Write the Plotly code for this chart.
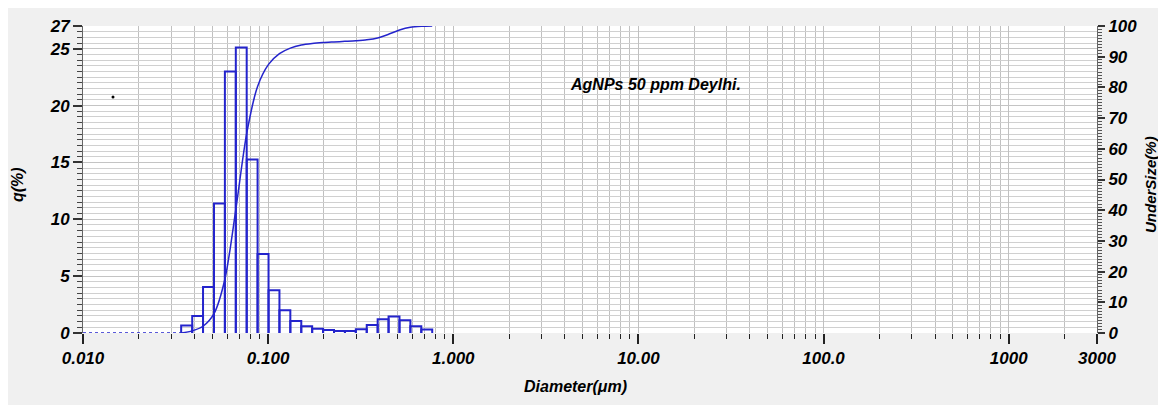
import plotly.graph_objects as go

# ---- data ----
bin_edges = [0.0339, 0.0389, 0.0445, 0.0510, 0.0584, 0.0669, 0.0766, 0.0877, 0.1005,
             0.1151, 0.1318, 0.1510, 0.1729, 0.1981, 0.2269, 0.2599, 0.2976, 0.3409,
             0.3905, 0.4472, 0.5122, 0.5867, 0.6720, 0.7697]
q_percent = [0.65, 1.5, 4.05, 11.4, 23.0, 25.1, 15.25, 6.95, 3.75, 2.0, 1.05, 0.6,
             0.38, 0.27, 0.18, 0.18, 0.33, 0.7, 1.2, 1.45, 1.12, 0.59, 0.3]
undersize = [0, 0.7, 2.2, 6.3, 17.5, 40.2, 65.0, 80.3, 87.5, 91.0, 92.8, 93.8, 94.3,
             94.6, 94.8, 95.0, 95.2, 95.5, 96.1, 97.3, 98.7, 99.6, 99.9, 100]
zero_run_x = [0.010, 0.0339]
zero_run_y = [0, 0]
stray_x = [0.01452]
stray_y = [20.75]

x_tick_vals = [0.01, 0.1, 1, 10, 100, 1000, 3000]
x_tick_text = ["0.010", "0.100", "1.000", "10.00", "100.0", "1000", "3000"]
y_tick_vals = [0, 5, 10, 15, 20, 25, 27]
y2_tick_vals = [0, 10, 20, 30, 40, 50, 60, 70, 80, 90, 100]

BLUE = "#2424cc"
FONT = dict(family="Liberation Sans", size=17, color="black", weight="bold", style="italic")

# the page body adds an 8 px offset; plot area in the screenshot is x 83..1097, y 26..333
OFF = 8
W, H = 1166, 405
L, T = 83 - OFF, 26 - OFF
R = W - (1097 - OFF)
B = H - (333 - OFF)
PW, PH = W - L - R, H - T - B

# outline path of the histogram bars
bx, by = [], []
for i, h in enumerate(q_percent):
    l, r = bin_edges[i], bin_edges[i + 1]
    bx += [l, l, r, r, None]
    by += [0, h, h, 0, None]

fig = go.Figure()
fig.add_trace(go.Scatter(x=zero_run_x, y=zero_run_y, mode="lines",
                         line=dict(color=BLUE, width=1.5, dash="dot"),
                         hoverinfo="skip", showlegend=False))
fig.add_trace(go.Scatter(x=bx, y=by, mode="lines",
                         line=dict(color=BLUE, width=2), showlegend=False))
fig.add_trace(go.Scatter(x=stray_x, y=stray_y, mode="markers",
                         marker=dict(color="black", size=3), showlegend=False))
fig.add_trace(go.Scatter(x=bin_edges, y=undersize, mode="lines", yaxis="y2",
                         line=dict(color=BLUE, width=1.5, shape="spline", smoothing=0.8),
                         showlegend=False))

minor_x = [m * 10 ** e for e in range(-2, 4) for m in range(2, 10) if m * 10 ** e < 3000]


def px_x(px):
    return (px - OFF - L) / PW


def px_y(py):
    return (H - B - (py - OFF)) / PH


fig.update_layout(
    width=W, height=H,
    margin=dict(l=L, r=R, t=T, b=B, autoexpand=False),
    paper_bgcolor="#f0f0f0",
    plot_bgcolor="white",
    font=FONT,
    xaxis=dict(
        type="log", range=[-2, 3.4771], automargin=False,
        tickvals=x_tick_vals, ticktext=x_tick_text,
        ticks="outside", ticklen=10, tickwidth=1.5, tickcolor="#222",
        showgrid=True, gridcolor="#c0c0c0", gridwidth=1,
        minor=dict(tickvals=minor_x, ticks="outside", ticklen=5, tickwidth=1.2,
                   tickcolor="#222", showgrid=True, gridcolor="#c0c0c0", gridwidth=1),
        showline=False, zeroline=False,
        tickfont=FONT,
    ),
    yaxis=dict(
        range=[0, 27], tickvals=y_tick_vals, automargin=False,
        ticks="outside", ticklen=9, tickwidth=1.5, tickcolor="#333",
        showgrid=True, gridcolor="#c4c4c4", gridwidth=1,
        minor=dict(dtick=0.5, tick0=0, ticks="outside", ticklen=5, tickwidth=1,
                   tickcolor="#444", showgrid=True, gridcolor="#d0d0d0", gridwidth=1),
        showline=True, linecolor="#666", linewidth=1, zeroline=False,
        tickfont=FONT,
    ),
    yaxis2=dict(
        range=[0, 100], tickvals=y2_tick_vals, overlaying="y", side="right",
        automargin=False,
        ticks="outside", ticklen=7, tickwidth=1.5, tickcolor="#333",
        minor=dict(dtick=1, tick0=0, ticks="outside", ticklen=4, tickwidth=1,
                   tickcolor="#555"),
        showgrid=False, showline=True, linecolor="#666", linewidth=1, zeroline=False,
        tickfont=FONT,
    ),
    annotations=[
        dict(text="AgNPs 50 ppm Deylhi.", x=px_x(655), y=px_y(84), xref="paper", yref="paper",
             showarrow=False, font=dict(FONT, size=16), xanchor="center", yanchor="middle"),
        dict(text="Diameter(μm)", x=px_x(575), y=px_y(386), xref="paper", yref="paper",
             showarrow=False, font=dict(FONT, size=16), xanchor="center", yanchor="middle"),
        dict(text="q(%)", x=px_x(17), y=px_y(185), xref="paper", yref="paper", textangle=-90,
             showarrow=False, font=dict(FONT, size=16), xanchor="center", yanchor="middle"),
        dict(text="UnderSize(%)", x=px_x(1150), y=px_y(185), xref="paper", yref="paper",
             textangle=-90, showarrow=False, font=dict(FONT, size=15),
             xanchor="center", yanchor="middle"),
    ],
)

fig.write_html("out.html")
